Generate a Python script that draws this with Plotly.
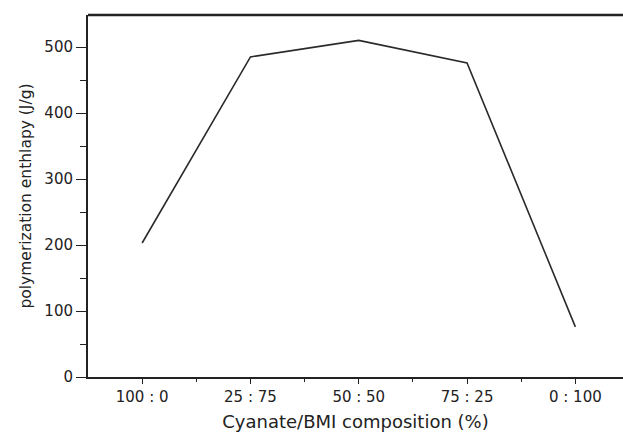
import plotly.graph_objects as go

categories = ["100 : 0", "25 : 75", "50 : 50", "75 : 25", "0 : 100"]
enthalpy = [203, 485, 510, 476, 76]
y_ticks = [0, 100, 200, 300, 400, 500]

xpos = list(range(1, len(categories) + 1))

fig = go.Figure()
fig.add_trace(go.Scatter(
    x=xpos, y=enthalpy, mode="lines",
    line=dict(color="#2a2a2a", width=1.6),
    showlegend=False,
))

ink = "#222222"
font = dict(family="DejaVu Sans, sans-serif", size=15, color=ink)

fig.update_layout(
    width=623, height=433,
    margin=dict(l=88, r=0, t=15, b=56, autoexpand=False),
    plot_bgcolor="white", paper_bgcolor="white",
    font=font,
)
fig.update_xaxes(
    range=[0.5, 5.44],
    tickmode="array", tickvals=xpos, ticktext=categories,
    ticks="outside", ticklen=5, tickwidth=1.3, tickcolor=ink,
    showline=True, linecolor=ink, linewidth=2,
    showgrid=False, zeroline=False,
    minor=dict(tickvals=[1.5, 2.5, 3.5, 4.5], ticks="outside", ticklen=3, tickwidth=1.2, tickcolor=ink),
    title=dict(text="Cyanate/BMI composition (%)", standoff=10, font=dict(size=18)),
    automargin=False,
)
fig.update_yaxes(
    range=[0, 548.5],
    tickvals=y_ticks,
    ticks="outside", ticklen=10, tickwidth=1.3, tickcolor=ink,
    showline=True, linecolor=ink, linewidth=2,
    showgrid=False, zeroline=False,
    minor=dict(dtick=50, ticks="outside", ticklen=6, tickwidth=1.2, tickcolor=ink),
    title=dict(text="polymerization enthlapy (J/g)", standoff=9, font=dict(size=15.5)),
    automargin=False,
)
fig.add_shape(type="line", xref="paper", yref="paper", x0=0, x1=1, y0=1, y1=1,
              line=dict(color=ink, width=2.4))

fig.write_html("out.html", config={"displayModeBar": False},
               post_script="document.body.style.margin='0';document.body.style.overflow='hidden';")
